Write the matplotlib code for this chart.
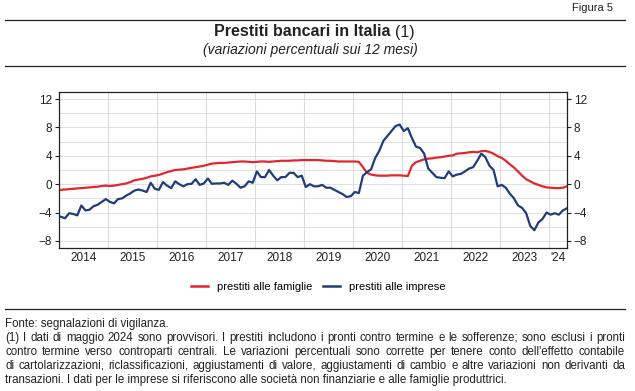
import matplotlib.pyplot as plt
import numpy as np
from matplotlib.lines import Line2D

plt.rcParams['font.family'] = ['Liberation Sans', 'DejaVu Sans']

# monthly data, Jan 2014 - May 2024
start_year = 2014
famiglie = [-0.8, -0.75, -0.7, -0.65, -0.6, -0.55, -0.5, -0.45, -0.4, -0.35, -0.25, -0.2,
            -0.25, -0.2, -0.1, 0.0, 0.1, 0.3, 0.55, 0.65, 0.75, 0.9, 1.1, 1.2,
            1.3, 1.5, 1.7, 1.85, 2.0, 2.05, 2.1, 2.2, 2.3, 2.4, 2.5, 2.6,
            2.75, 2.9, 2.95, 3.0, 3.0, 3.05, 3.1, 3.15, 3.2, 3.2, 3.15, 3.1,
            3.15, 3.2, 3.2, 3.15, 3.2, 3.25, 3.3, 3.3, 3.3, 3.35, 3.35, 3.4,
            3.4, 3.4, 3.4, 3.4, 3.35, 3.3, 3.3, 3.25, 3.2, 3.2, 3.2, 3.2,
            3.2, 3.15, 2.4, 1.6, 1.35, 1.25, 1.2, 1.2, 1.2, 1.25, 1.25, 1.25,
            1.2, 1.15, 2.6, 3.1, 3.3, 3.5, 3.6, 3.65, 3.75, 3.8, 3.9, 4.0,
            4.05, 4.3, 4.35, 4.4, 4.5, 4.55, 4.5, 4.65, 4.7, 4.55, 4.3, 3.95,
            3.7, 3.3, 2.8, 2.35, 1.8, 1.2, 0.7, 0.4, 0.1, -0.1, -0.3, -0.45,
            -0.5, -0.55, -0.55, -0.5, -0.3]
imprese = [-4.6, -4.8, -4.1, -4.2, -4.4, -3.0, -3.7, -3.6, -3.1, -2.9, -2.5, -2.1,
           -2.5, -2.7, -2.1, -2.0, -1.6, -1.3, -0.9, -0.75, -0.9, -1.1, 0.2, -0.65,
           -0.8, 0.3, -0.2, -0.55, 0.4, 0.0, -0.3, 0.0, 0.05, 0.7, -0.1, 0.1,
           0.8, 0.05, 0.1, 0.1, 0.2, -0.1, 0.5, 0.05, -0.5, -0.3, 0.4, 0.2,
           1.8, 1.0, 1.0, 2.0, 1.2, 0.55, 1.0, 1.0, 1.6, 1.6, 1.0, 1.2,
           -0.4, 0.0, -0.3, -0.3, -0.1, -0.5, -0.5, -0.8, -1.1, -1.4, -1.8, -1.7,
           -1.1, -1.25, 1.2, 1.7, 2.1, 3.7, 4.7, 6.1, 6.8, 7.5, 8.2, 8.4,
           7.5, 7.9, 6.5, 5.3, 5.1, 4.3, 2.2, 1.6, 1.0, 0.9, 0.85, 1.8,
           1.1, 1.35, 1.45, 1.8, 2.2, 2.4, 3.3, 4.3, 3.8, 2.6, 2.0, -0.3,
           -0.1, -0.5, -1.35, -2.0, -3.0, -3.35, -4.1, -5.9, -6.5, -5.4, -4.9, -4.0,
           -4.3, -4.1, -4.3, -3.7, -3.4]
year_labels = ['2014', '2015', '2016', '2017', '2018', '2019', '2020', '2021', '2022', '2023', "'24"]
y_ticks = [-8, -4, 0, 4, 8, 12]

t = start_year + (np.arange(len(famiglie)) + 0.5) / 12.0

fig = plt.figure(figsize=(6.35, 3.91), dpi=100)
W, H = 635, 391

def fx(px):
    return px / W

def fy(py):
    return 1 - py / H

ax = fig.add_axes([fx(59), fy(248), fx(567 - 59), (248 - 92) / H])

red = '#e3262e'
blue = '#1f3d7a'
ax.plot(t, famiglie, color=red, lw=1.6, zorder=3)
ax.plot(t, imprese, color=blue, lw=1.6, zorder=3)

ax.set_xlim(t[0] - 0.04, t[-1])
ax.set_ylim(-9, 13)

# grid
for y in np.arange(-8, 13, 2):
    ax.axhline(y, color='#dcdcdc', lw=0.6, zorder=1)
for yr in range(2015, 2025):
    ax.axvline(yr, color='#dcdcdc', lw=0.8, zorder=1)

ax.set_yticks(y_ticks)
ax.set_yticklabels([str(v).replace('-', '\u2212') for v in y_ticks])
ax.tick_params(axis='y', which='both', left=True, right=True, labelleft=True, labelright=True,
               direction='out', length=3, width=0.8, labelsize=8.5, pad=2, colors='#222222')

centers = [yr + 0.5 for yr in range(2014, 2024)] + [2024 + (t[-1] - 2024) / 2]
ax.set_xticks(centers)
ax.set_xticklabels(year_labels)
ax.tick_params(axis='x', length=0, labelsize=8.5, pad=3, colors='#222222')

for s in ax.spines.values():
    s.set_linewidth(0.9)
    s.set_color('#222222')

# header
fig.text(fx(613), fy(8), 'Figura 5', ha='right', va='center', fontsize=8, color='#222222')
fig.add_artist(Line2D([fx(5), fx(625)], [fy(20), fy(20)], color='#222222', lw=0.9))
fig.text(fx(390), fy(32), 'Prestiti bancari in Italia', ha='right', va='center', fontsize=11.5,
         fontweight='bold', color='#222222')
fig.text(fx(395), fy(32), '(1)', ha='left', va='center', fontsize=11.5, color='#222222')
fig.text(fx(310), fy(50), '(variazioni percentuali sui 12 mesi)', ha='center', va='center',
         fontsize=10, style='italic', color='#222222')
fig.add_artist(Line2D([fx(5), fx(625)], [fy(66), fy(66)], color='#222222', lw=0.9))

# legend
handles = [Line2D([], [], color=red, lw=1.8), Line2D([], [], color=blue, lw=1.8)]
fig.legend(handles, ['prestiti alle famiglie', 'prestiti alle imprese'], loc='center',
           bbox_to_anchor=(fx(318), fy(287)), ncol=2, frameon=False, fontsize=8,
           handlelength=1.5, handletextpad=0.8, columnspacing=1.0)

fig.add_artist(Line2D([fx(5), fx(625)], [fy(309), fy(309)], color='#222222', lw=0.9))

notes = [
    'Fonte: segnalazioni di vigilanza.',
    "(1) I dati di maggio 2024 sono provvisori. I prestiti includono i pronti contro termine e le sofferenze; sono esclusi i pronti",
    "contro termine verso controparti centrali. Le variazioni percentuali sono corrette per tenere conto dell'effetto contabile",
    "di cartolarizzazioni, riclassificazioni, aggiustamenti di valore, aggiustamenti di cambio e altre variazioni non derivanti da",
    "transazioni. I dati per le imprese si riferiscono alle società non finanziarie e alle famiglie produttrici.",
]
justify = [False, True, True, True, False]
renderer = fig.canvas.get_renderer()
note_kw = dict(ha='left', va='center', fontsize=8.3, color='#222222')
for k, line in enumerate(notes):
    y = fy(324 + 14 * k)
    if not justify[k]:
        fig.text(fx(5), y, line, **note_kw)
        continue
    # justified line: spread the words between the margins
    words = line.split(' ')
    items = [fig.text(0, y, w, **note_kw) for w in words]
    widths = [it.get_window_extent(renderer).width for it in items]
    gap = (620 - sum(widths)) / (len(words) - 1)
    xpos = 5
    for it, w in zip(items, widths):
        it.set_x(fx(xpos))
        xpos += w + gap

fig.savefig('out.png', dpi=100)
